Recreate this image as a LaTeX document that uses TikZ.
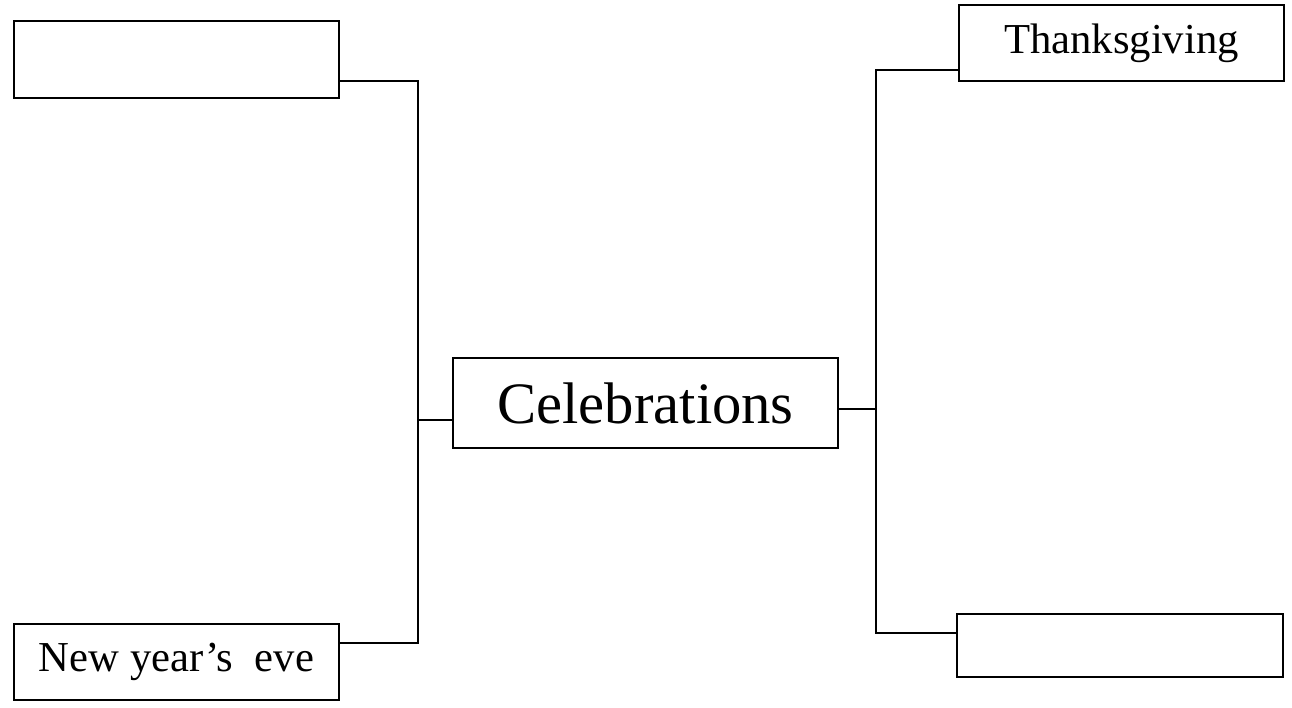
\documentclass[tikz,border=0pt]{standalone}
\usepackage{fontspec}
\setmainfont{Liberation Serif}
\begin{document}
\begin{tikzpicture}[x=0.75pt,y=-0.75pt,
  box/.style={draw=black,line width=1.1pt,rectangle,inner sep=0pt,outer sep=0pt},
  conn/.style={draw=black,line width=1.1pt}]
\path[use as bounding box] (0,0) rectangle (1292,707);
\node[box,minimum width=243.75pt,minimum height=57.75pt] (tl) at (176.5,59.5) {};
\node[box,minimum width=243.75pt,minimum height=57pt,font=\fontsize{32}{36}\selectfont] (bl) at (176.5,662) {New year’s~~eve};
\node[box,minimum width=288.75pt,minimum height=67.5pt,font=\fontsize{44}{50}\selectfont] (c) at (645.5,403) {Celebrations};
\node[box,minimum width=243.75pt,minimum height=57pt,font=\fontsize{32}{36}\selectfont] (tr) at (1121.5,43) {Thanksgiving};
\node[box,minimum width=244.5pt,minimum height=47.25pt] (br) at (1120,645.5) {};
\coordinate (la) at (418,81);
\coordinate (lb) at (418,643);
\coordinate (lm) at (418,420);
\coordinate (ra) at (876,70);
\coordinate (rb) at (876,633);
\coordinate (rm) at (876,409);
\draw[conn] (tl.east |- la) -- (la) -- (lb) -- (bl.east |- lb);
\draw[conn] (lm) -- (c.west |- lm);
\draw[conn] (tr.west |- ra) -- (ra) -- (rb) -- (br.west |- rb);
\draw[conn] (c.east |- rm) -- (rm);
\end{tikzpicture}
\end{document}
